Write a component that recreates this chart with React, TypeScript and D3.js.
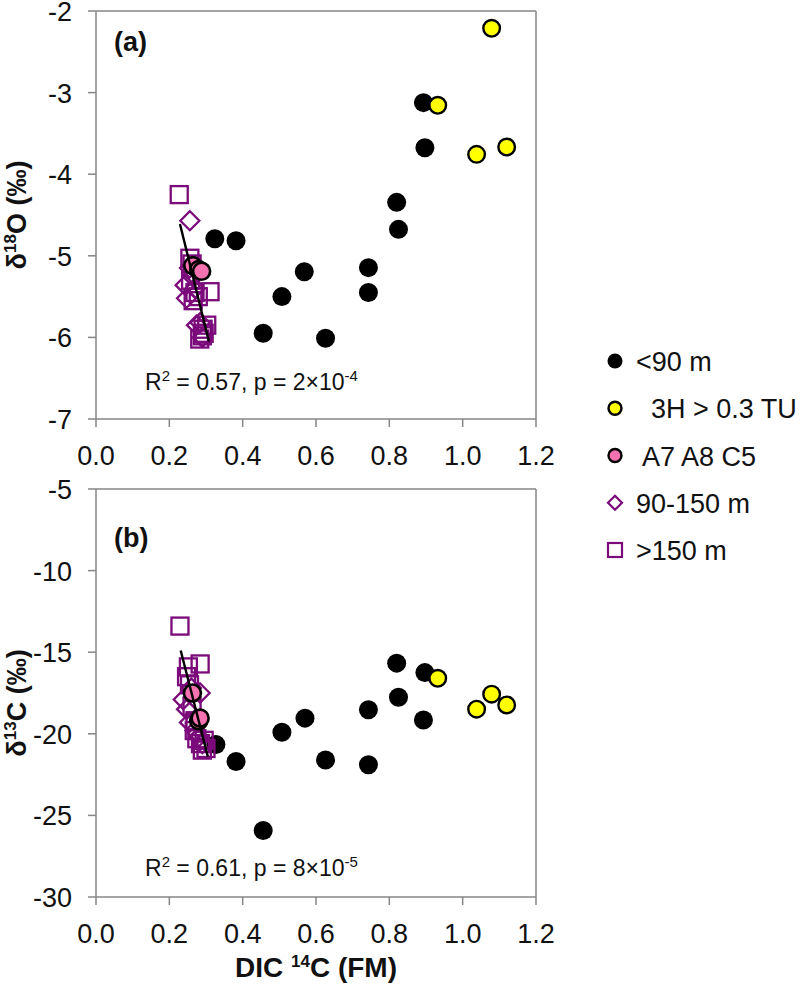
import React from "react";
import * as d3 from "d3";

// ---------- Data ----------
const xTicks = [0, 0.2, 0.4, 0.6, 0.8, 1.0, 1.2];
const yTicksA = [-7, -6, -5, -4, -3, -2];
const yTicksB = [-30, -25, -20, -15, -10, -5];

// Panel (a): δ18O vs DIC 14C
const shallowA: [number, number][] = [
  [0.324, -4.79], [0.382, -4.815], [0.456, -5.95], [0.507, -5.5], [0.568, -5.195], [0.626, -6.01],
  [0.743, -5.145], [0.743, -5.45], [0.82, -4.345], [0.825, -4.676], [0.893, -3.123], [0.897, -3.675],
];
const tritiumA: [number, number][] = [
  [1.079, -2.212], [0.932, -3.156], [1.038, -3.757], [1.12, -3.667],
];
const pinkA: [number, number][] = [
  [0.264, -5.12], [0.28, -5.17], [0.288, -5.19],
];
const midA: [number, number][] = [
  [0.256, -4.57], [0.243, -5.36], [0.247, -5.52], [0.262, -5.25], [0.27, -5.4],
  [0.255, -5.15], [0.274, -5.85], [0.284, -5.82], [0.29, -6.0],
];
const deepA: [number, number][] = [
  [0.227, -4.25], [0.256, -5.03], [0.262, -5.1], [0.258, -5.3], [0.27, -5.45], [0.265, -5.55],
  [0.279, -5.5], [0.311, -5.44], [0.302, -5.85], [0.292, -5.9], [0.29, -5.98], [0.283, -6.02], [0.295, -5.95],
];
const fitA: [number, number][] = [[0.229, -4.61], [0.308, -6.05]];

// Panel (b): δ13C vs DIC 14C
const shallowB: [number, number][] = [
  [0.327, -20.65], [0.382, -21.7], [0.456, -25.92], [0.507, -19.9], [0.57, -19.04], [0.626, -21.6],
  [0.743, -18.53], [0.743, -21.9], [0.82, -15.67], [0.825, -17.76], [0.893, -19.15], [0.897, -16.25],
];
const tritiumB: [number, number][] = [
  [0.932, -16.6], [1.079, -17.57], [1.038, -18.49], [1.12, -18.23],
];
const pinkB: [number, number][] = [
  [0.263, -17.5], [0.28, -19.2], [0.284, -19.04],
];
const midB: [number, number][] = [
  [0.284, -17.5], [0.238, -17.9], [0.247, -18.5], [0.26, -17.2], [0.255, -19.3],
  [0.27, -19.8], [0.28, -20.2], [0.29, -20.6],
];
const deepB: [number, number][] = [
  [0.229, -13.4], [0.284, -15.72], [0.252, -15.9], [0.247, -16.5], [0.255, -17.0], [0.262, -18.3],
  [0.27, -19.2], [0.268, -19.8], [0.275, -20.3], [0.285, -20.6], [0.295, -20.4], [0.3, -20.9], [0.29, -21.0],
];
const fitB: [number, number][] = [[0.231, -14.9], [0.305, -21.4]];

const legendLabels = ["<90 m", "  3H > 0.3 TU", " A7 A8 C5", "90-150 m", ">150 m"];

// ---------- Styles ----------
const FONT = "'Liberation Sans', Arial, sans-serif";
const AXIS = "#868686";
const PURPLE = "#7B0A7B";
const PINK = "#F472B0";
const YELLOW = "#FFFF00";

const xScale = d3.scaleLinear().domain([0, 1.2]).range([96, 536]);

type PanelProps = {
  y: d3.ScaleLinear<number, number>;
  yTicks: number[];
  shallow: [number, number][];
  tritium: [number, number][];
  pink: [number, number][];
  mid: [number, number][];
  deep: [number, number][];
  fit: [number, number][];
  tag: string;
  tagY: number;
  stats: string[];
  statsY: number;
  yLabel: React.ReactNode;
};

function Panel(p: PanelProps) {
  const [y0, y1] = p.y.range();
  const top = Math.min(y0, y1);
  const bottom = Math.max(y0, y1);
  const left = xScale.range()[0];
  const right = xScale.range()[1];
  const line = d3.line<[number, number]>().x((d) => xScale(d[0])).y((d) => p.y(d[1]));
  const diamond = (cx: number, cy: number, r: number) =>
    `M${cx},${cy - r}L${cx + r},${cy}L${cx},${cy + r}L${cx - r},${cy}Z`;
  return (
    <g>
      <line x1={left} x2={right} y1={top} y2={top} stroke={AXIS} strokeWidth={1.5} />
      <line x1={right} x2={right} y1={top} y2={bottom} stroke={AXIS} strokeWidth={1.5} />
      <line x1={left} x2={left} y1={top} y2={bottom} stroke={AXIS} strokeWidth={1.5} />
      <line x1={left} x2={right} y1={bottom} y2={bottom} stroke={AXIS} strokeWidth={1.5} />
      {p.yTicks.map((t) => (
        <g key={"y" + t}>
          <line x1={left - 8} x2={left} y1={p.y(t)} y2={p.y(t)} stroke={AXIS} strokeWidth={1.5} />
          <text x={72} y={p.y(t) + 10} textAnchor="end" fontSize={27} fontFamily={FONT} fill="#111">
            {t}
          </text>
        </g>
      ))}
      {xTicks.map((t) => (
        <g key={"x" + t}>
          <line x1={xScale(t)} x2={xScale(t)} y1={bottom} y2={bottom + 8} stroke={AXIS} strokeWidth={1.5} />
          <text x={xScale(t)} y={bottom + 46} textAnchor="middle" fontSize={27} fontFamily={FONT} fill="#111">
            {t.toFixed(1)}
          </text>
        </g>
      ))}
      {p.shallow.map((d, i) => (
        <circle key={"s" + i} cx={xScale(d[0])} cy={p.y(d[1])} r={9.5} fill="#000" />
      ))}
      {p.tritium.map((d, i) => (
        <circle key={"t" + i} cx={xScale(d[0])} cy={p.y(d[1])} r={8.3} fill={YELLOW} stroke="#000" strokeWidth={2.4} />
      ))}
      {p.mid.map((d, i) => (
        <path key={"m" + i} d={diamond(xScale(d[0]), p.y(d[1]), 9.5)} fill="none" stroke={PURPLE} strokeWidth={2.3} />
      ))}
      {p.deep.map((d, i) => (
        <rect key={"d" + i} x={xScale(d[0]) - 8.5} y={p.y(d[1]) - 8.5} width={17} height={17} fill="none" stroke={PURPLE} strokeWidth={2.3} />
      ))}
      {p.pink.map((d, i) => (
        <circle key={"p" + i} cx={xScale(d[0])} cy={p.y(d[1])} r={8.5} fill={PINK} stroke="#000" strokeWidth={2.6} />
      ))}
      <path d={line(p.fit) || ""} stroke="#000" strokeWidth={2.4} fill="none" />
      <text x={114} y={p.tagY} fontSize={27} fontWeight="bold" fontFamily={FONT} fill="#111">
        {p.tag}
      </text>
      <text x={145} y={p.statsY} fontSize={23} fontFamily={FONT} fill="#111">
        {p.stats[0]}
        <tspan fontSize={15} dy={-9}>{p.stats[1]}</tspan>
        <tspan dy={9}>{p.stats[2]}</tspan>
        <tspan fontSize={15} dy={-9}>{p.stats[3]}</tspan>
      </text>
      {p.yLabel}
    </g>
  );
}

export default function App() {
  const yA = d3.scaleLinear().domain([-7, -2]).range([419, 11]);
  const yB = d3.scaleLinear().domain([-30, -5]).range([897, 489]);
  const legendY = d3.scalePoint<number>().domain(d3.range(legendLabels.length)).range([361, 550]);
  const lx = 615;
  return (
    <div style={{ position: "absolute", left: 0, top: 0 }}>
      <svg width={800} height={986} style={{ display: "block", background: "#fff" }}>
        <rect width={800} height={986} fill="#fff" />
        <Panel
          y={yA}
          yTicks={yTicksA}
          shallow={shallowA}
          tritium={tritiumA}
          pink={pinkA}
          mid={midA}
          deep={deepA}
          fit={fitA}
          tag="(a)"
          tagY={51}
          stats={["R", "2", " = 0.57, p = 2×10", "-4"]}
          statsY={390}
          yLabel={
            <text transform="translate(26,215) rotate(-90)" textAnchor="middle" fontSize={27} fontWeight="bold" fontFamily={FONT} fill="#111">
              δ<tspan fontSize={17} dy={-10}>18</tspan><tspan dy={10}>O (‰)</tspan>
            </text>
          }
        />
        <Panel
          y={yB}
          yTicks={yTicksB}
          shallow={shallowB}
          tritium={tritiumB}
          pink={pinkB}
          mid={midB}
          deep={deepB}
          fit={fitB}
          tag="(b)"
          tagY={547}
          stats={["R", "2", " = 0.61, p = 8×10", "-5"]}
          statsY={876}
          yLabel={
            <text transform="translate(26,703) rotate(-90)" textAnchor="middle" fontSize={27} fontWeight="bold" fontFamily={FONT} fill="#111">
              δ<tspan fontSize={17} dy={-10}>13</tspan><tspan dy={10}>C (‰)</tspan>
            </text>
          }
        />
        <text x={316} y={977} textAnchor="middle" fontSize={28} fontWeight="bold" fontFamily={FONT} fill="#111">
          DIC <tspan fontSize={17} dy={-10}>14</tspan><tspan dy={10}>C (FM)</tspan>
        </text>
        {legendLabels.map((lab, i) => {
          const cy = legendY(i) as number;
          let marker: React.ReactNode;
          if (i === 0) marker = <circle cx={lx} cy={cy} r={7.5} fill="#000" />;
          else if (i === 1) marker = <circle cx={lx} cy={cy} r={6.5} fill={YELLOW} stroke="#000" strokeWidth={2.4} />;
          else if (i === 2) marker = <circle cx={lx} cy={cy} r={6.5} fill={PINK} stroke="#000" strokeWidth={2.4} />;
          else if (i === 3)
            marker = <path d={`M${lx},${cy - 7}L${lx + 7},${cy}L${lx},${cy + 7}L${lx - 7},${cy}Z`} fill="none" stroke={PURPLE} strokeWidth={2.2} />;
          else marker = <rect x={lx - 7} y={cy - 7} width={14} height={14} fill="none" stroke={PURPLE} strokeWidth={2.2} />;
          return (
            <g key={lab}>
              {marker}
              <text x={636} y={cy + 10} fontSize={27} fontFamily={FONT} fill="#111" style={{ whiteSpace: "pre" }} xmlSpace="preserve">
                {lab}
              </text>
            </g>
          );
        })}
      </svg>
    </div>
  );
}
